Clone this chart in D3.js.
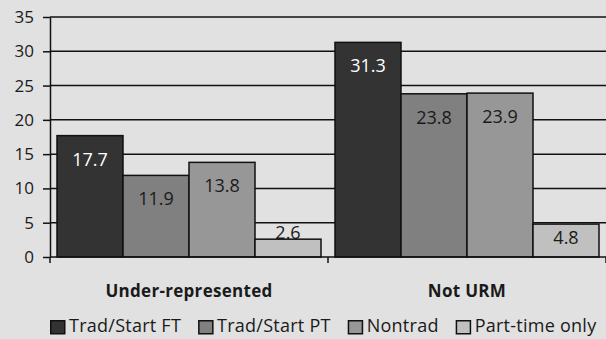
<!DOCTYPE html>
<html>
<head>
<meta charset="utf-8">
<script src="https://cdn.jsdelivr.net/npm/d3@7"></script>
<style>
  html, body { margin: 0; padding: 0; background: #e1e1e1; }
  svg { display: block; }
  text { font-family: "Open Sans", sans-serif; fill: #1a1a1a; }
</style>
</head>
<body>
<svg id="chart" width="606" height="339"></svg>
<script>
// Groups along the x axis
const categories = ["Under-represented", "Not URM"];
// Series shown within each group
const seriesNames = ["Trad/Start FT", "Trad/Start PT", "Nontrad", "Part-time only"];
// Percent values per group, in series order
const urmValues = [17.7, 11.9, 13.8, 2.6];
const notUrmValues = [31.3, 23.8, 23.9, 4.8];
// Y axis tick labels
const yTicks = [0, 5, 10, 15, 20, 25, 30, 35];

const seriesColors = ["#333333", "#808080", "#979797", "#c0c0c0"];
const labelColors = ["#ffffff", "#1a1a1a", "#1a1a1a", "#1a1a1a"];

const groups = [
  { category: categories[0], values: urmValues },
  { category: categories[1], values: notUrmValues }
];

const svg = d3.select("#chart");
const plot = { left: 50, right: 606, top: 17, bottom: 257 };

const x0 = d3.scaleBand().domain(categories).range([plot.left, plot.right]).padding(0);
const x1 = d3.scaleBand().domain(seriesNames).range([0, x0.bandwidth()])
  .paddingInner(0).paddingOuter(0.106);
const y = d3.scaleLinear().domain([0, 35]).range([plot.bottom, plot.top]);
const color = d3.scaleOrdinal().domain(seriesNames).range(seriesColors);
const labelColor = d3.scaleOrdinal().domain(seriesNames).range(labelColors);

// Horizontal gridlines
svg.append("g")
  .selectAll("line")
  .data(yTicks.filter(t => t > 0))
  .join("line")
  .attr("x1", plot.left).attr("x2", plot.right)
  .attr("y1", d => y(d)).attr("y2", d => y(d))
  .attr("stroke", "#111").attr("stroke-width", 1.5);

// Y axis
const yAxis = svg.append("g")
  .attr("transform", `translate(${plot.left},0)`)
  .call(d3.axisLeft(y).tickValues(yTicks).tickSize(7).tickPadding(9).tickSizeOuter(0));
yAxis.select(".domain").attr("stroke", "#111").attr("stroke-width", 1.5);
yAxis.selectAll(".tick line").attr("stroke", "#111").attr("stroke-width", 1.5);
yAxis.selectAll(".tick text")
  .style("font-family", "'Open Sans', sans-serif")
  .style("font-size", "17px").attr("fill", "#111");

// Bars
const barG = svg.append("g")
  .selectAll("g")
  .data(groups)
  .join("g")
  .attr("transform", d => `translate(${x0(d.category)},0)`);

const cells = barG.selectAll("g")
  .data(d => d.values.map((v, i) => ({ series: seriesNames[i], value: v })))
  .join("g");

cells.append("rect")
  .attr("x", d => x1(d.series))
  .attr("y", d => y(d.value))
  .attr("width", x1.bandwidth())
  .attr("height", d => y(0) - y(d.value))
  .attr("fill", d => color(d.series))
  .attr("stroke", "#111")
  .attr("stroke-width", 1.5);

// Value labels near the inside end of each bar
cells.append("text")
  .attr("x", d => x1(d.series) + x1.bandwidth() / 2)
  .attr("y", d => {
    const t = y(d.value), h = y(0) - t;
    if (h < 20) return t - 7;
    if (h < 45) return (t + y(0)) / 2 - 4;
    return t + 23;
  })
  .attr("text-anchor", "middle")
  .attr("dominant-baseline", "central")
  .style("font-size", "18px")
  .style("fill", d => labelColor(d.series))
  .text(d => d.value.toFixed(1));

// X axis baseline with group separators
const xAxis = svg.append("g")
  .attr("transform", `translate(0,${plot.bottom})`);
xAxis.append("line")
  .attr("x1", plot.left).attr("x2", plot.right)
  .attr("stroke", "#111").attr("stroke-width", 1.5);
xAxis.selectAll("line.sep")
  .data([plot.left, ...categories.map(c => x0(c) + x0.bandwidth())])
  .join("line")
  .attr("class", "sep")
  .attr("x1", d => d).attr("x2", d => d)
  .attr("y1", 0).attr("y2", 6)
  .attr("stroke", "#111").attr("stroke-width", 1.5);
xAxis.selectAll("text")
  .data(categories)
  .join("text")
  .attr("x", d => x0(d) + x0.bandwidth() / 2)
  .attr("y", 33)
  .attr("text-anchor", "middle")
  .attr("dominant-baseline", "central")
  .style("font-size", "17px")
  .style("font-weight", "bold")
  .style("letter-spacing", "0.3px")
  .text(d => d);

// Legend
const legend = svg.append("g").attr("transform", "translate(50,320)");
let lx = 0;
seriesNames.forEach(name => {
  const item = legend.append("g").attr("transform", `translate(${lx},0)`);
  item.append("rect")
    .attr("x", 0.75).attr("y", 0.75)
    .attr("width", 14).attr("height", 13)
    .attr("fill", color(name))
    .attr("stroke", "#111").attr("stroke-width", 1.5);
  const t = item.append("text")
    .attr("x", 19).attr("y", 12)
    .style("font-size", "18px")
    .style("letter-spacing", "0.25px")
    .text(name);
  lx += 19 + t.node().getComputedTextLength() + 17;
});
</script>
</body>
</html>
